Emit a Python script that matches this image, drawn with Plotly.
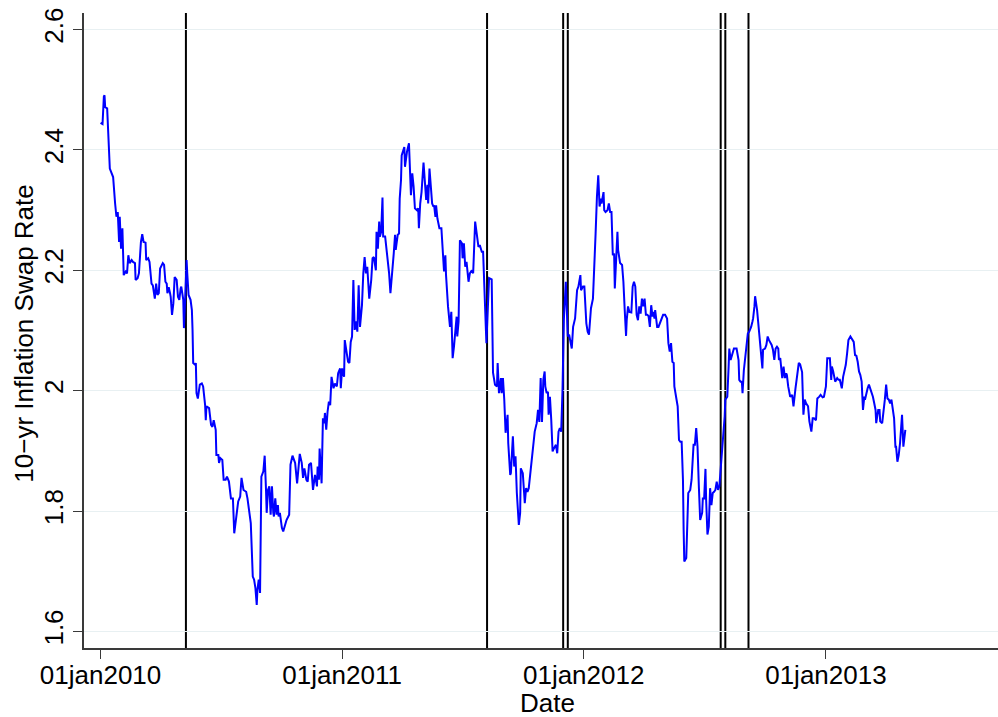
import pandas as pd
import plotly.graph_objects as go

# ---- data (days since 01jan2010, 10-yr inflation swap rate) ----
days = [
    0, 3, 5, 6, 7, 10, 14, 17, 19, 22,
    24, 26, 28, 29, 31, 33, 34, 35, 38, 40,
    42, 44, 47, 49, 52, 53, 56, 58, 61, 63,
    65, 68, 69, 72, 74, 77, 79, 82, 84, 86,
    88, 90, 94, 96, 98, 100, 101, 103, 105, 106,
    108, 110, 112, 115, 117, 119, 121, 122, 125, 126,
    128, 130, 131, 133, 136, 138, 139, 140, 143, 144,
    145, 147, 150, 153, 155, 158, 159, 160, 164, 167,
    169, 171, 174, 175, 178, 179, 181, 184, 186, 189,
    191, 194, 197, 200, 202, 206, 208, 211, 213, 216,
    220, 222, 225, 227, 230, 232, 234, 236, 237, 239,
    241, 242, 243, 246, 248, 250, 251, 253, 255, 257,
    259, 261, 262, 264, 266, 268, 269, 271, 274, 276,
    279, 281, 285, 287, 290, 292, 294, 297, 299, 301,
    304, 306, 308, 311, 313, 315, 318, 321, 324, 327,
    328, 330, 331, 334, 336, 338, 339, 341, 343, 345,
    347, 349, 352, 354, 357, 359, 362, 363, 365, 368,
    369, 372, 374, 376, 378, 380, 382, 384, 386, 388,
    390, 392, 395, 397, 399, 401, 403, 406, 409, 411,
    413, 416, 417, 419, 421, 422, 424, 426, 427, 430,
    433, 436, 438, 441, 443, 445, 446, 449, 451, 452,
    454, 455, 457, 459, 460, 463, 466, 468, 469, 471,
    473, 475, 478, 480, 481, 483, 485, 488, 490, 492,
    494, 495, 497, 499, 501, 503, 504, 506, 507, 509,
    512, 515, 518, 519, 521, 522, 525, 527, 528, 530,
    532, 534, 536, 538, 539, 541, 543, 546, 547, 549,
    551, 553, 556, 558, 561, 563, 566, 568, 571, 573,
    576, 578, 581, 583, 587, 591, 593, 596, 599, 600,
    602, 605, 606, 608, 610, 612, 615, 616, 619, 620,
    623, 625, 627, 629, 632, 634, 635, 638, 640, 641,
    643, 645, 647, 649, 652, 654, 656, 659, 661, 663,
    665, 667, 669, 671, 672, 674, 676, 677, 679, 681,
    683, 685, 688, 690, 692, 694, 696, 698, 700, 703,
    704, 706, 708, 710, 712, 714, 717, 720, 722, 725,
    726, 729, 731, 734, 736, 738, 741, 744, 746, 748,
    750, 752, 754, 756, 757, 760, 761, 763, 766, 768,
    770, 772, 774, 776, 777, 779, 781, 782, 785, 788,
    790, 792, 794, 795, 797, 799, 802, 804, 806, 808,
    810, 812, 814, 816, 818, 820, 822, 824, 826, 828,
    830, 832, 834, 835, 837, 838, 841, 843, 845, 848,
    850, 853, 856, 858, 860, 862, 864, 866, 867, 870,
    872, 874, 876, 878, 880, 881, 882, 885, 886, 888,
    891, 893, 896, 898, 900, 902, 904, 906, 909, 910,
    912, 914, 915, 917, 919, 921, 923, 925, 927, 929,
    931, 933, 935, 937, 939, 941, 943, 944, 947, 949,
    950, 952, 954, 957, 961, 964, 965, 967, 969, 970,
    972, 974, 977, 978, 980, 983, 985, 986, 988, 989,
    992, 994, 996, 998, 1000, 1001, 1004, 1006, 1008, 1010,
    1012, 1014, 1016, 1018, 1020, 1022, 1024, 1025, 1027, 1028,
    1030, 1032, 1034, 1036, 1037, 1039, 1041, 1042, 1045, 1047,
    1050, 1052, 1055, 1057, 1060, 1062, 1064, 1066, 1069, 1071,
    1074, 1076, 1078, 1081, 1083, 1086, 1088, 1091, 1093, 1096,
    1098, 1100, 1102, 1104, 1105, 1107, 1110, 1113, 1115, 1117,
    1120, 1122, 1124, 1126, 1128, 1130, 1133, 1135, 1138, 1140,
    1142, 1144, 1146, 1148, 1150, 1152, 1154, 1155, 1157, 1159,
    1161, 1163, 1166, 1167, 1169, 1171, 1172, 1175, 1177, 1178,
    1181, 1183, 1185, 1187, 1189, 1191, 1193, 1195, 1197, 1199,
    1201, 1202, 1204, 1206, 1208, 1210, 1211, 1213, 1215, 1216,
]

swap_rate = [
    2.445, 2.443, 2.489, 2.491, 2.471, 2.469, 2.369, 2.361, 2.355, 2.311,
    2.289, 2.297, 2.247, 2.289, 2.236, 2.270, 2.239, 2.192, 2.198, 2.195,
    2.225, 2.212, 2.217, 2.214, 2.212, 2.184, 2.187, 2.195, 2.247, 2.260,
    2.247, 2.246, 2.217, 2.220, 2.214, 2.178, 2.175, 2.153, 2.178, 2.159,
    2.162, 2.203, 2.212, 2.209, 2.181, 2.178, 2.162, 2.172, 2.162, 2.156,
    2.126, 2.145, 2.189, 2.184, 2.156, 2.151, 2.170, 2.173, 2.151, 2.104,
    2.156, 2.217, 2.195, 2.159, 2.151, 2.134, 2.101, 2.046, 2.043, 2.046,
    1.996, 1.987, 2.010, 2.012, 2.007, 1.976, 1.951, 1.974, 1.971, 1.943,
    1.940, 1.951, 1.935, 1.893, 1.893, 1.880, 1.888, 1.885, 1.852, 1.852,
    1.857, 1.849, 1.821, 1.821, 1.763, 1.802, 1.816, 1.824, 1.855, 1.835,
    1.832, 1.821, 1.797, 1.780, 1.691, 1.686, 1.672, 1.644, 1.669, 1.686,
    1.664, 1.730, 1.857, 1.866, 1.892, 1.835, 1.797, 1.835, 1.841, 1.794,
    1.841, 1.797, 1.791, 1.821, 1.794, 1.810, 1.791, 1.797, 1.772, 1.766,
    1.777, 1.785, 1.794, 1.877, 1.892, 1.885, 1.880, 1.846, 1.880, 1.895,
    1.880, 1.855, 1.871, 1.852, 1.849, 1.877, 1.880, 1.835, 1.860, 1.841,
    1.874, 1.852, 1.904, 1.846, 1.954, 1.946, 1.963, 1.935, 1.965, 1.982,
    1.976, 2.023, 2.004, 2.012, 2.007, 2.029, 2.037, 2.004, 2.037, 2.023,
    2.084, 2.057, 2.048, 2.046, 2.081, 2.090, 2.184, 2.101, 2.115, 2.098,
    2.175, 2.106, 2.142, 2.195, 2.222, 2.195, 2.206, 2.153, 2.184, 2.220,
    2.222, 2.200, 2.264, 2.236, 2.281, 2.256, 2.264, 2.321, 2.256, 2.256,
    2.228, 2.195, 2.162, 2.195, 2.228, 2.259, 2.234, 2.259, 2.261, 2.319,
    2.350, 2.391, 2.400, 2.405, 2.372, 2.397, 2.411, 2.364, 2.325, 2.361,
    2.339, 2.303, 2.300, 2.303, 2.270, 2.311, 2.330, 2.379, 2.353, 2.317,
    2.342, 2.311, 2.369, 2.339, 2.311, 2.306, 2.308, 2.289, 2.308, 2.286,
    2.270, 2.270, 2.225, 2.198, 2.225, 2.192, 2.140, 2.112, 2.106, 2.131,
    2.054, 2.073, 2.095, 2.123, 2.090, 2.115, 2.250, 2.245, 2.220, 2.245,
    2.206, 2.214, 2.181, 2.195, 2.200, 2.195, 2.281, 2.261, 2.239, 2.242,
    2.231, 2.231, 2.151, 2.079, 2.187, 2.185, 2.030, 2.010, 2.007, 2.046,
    1.996, 2.021, 1.996, 2.021, 1.985, 1.930, 1.960, 1.913, 1.860, 1.863,
    1.924, 1.874, 1.891, 1.830, 1.777, 1.797, 1.871, 1.863, 1.830, 1.813,
    1.838, 1.832, 1.838, 1.860, 1.896, 1.921, 1.932, 1.946, 1.968, 1.948,
    2.021, 1.948, 2.018, 2.032, 2.007, 1.996, 1.998, 1.960, 1.990, 1.951,
    1.899, 1.904, 1.910, 1.896, 1.932, 1.938, 1.932, 2.001, 2.117, 2.181,
    2.140, 2.090, 2.093, 2.079, 2.070, 2.106, 2.120, 2.167, 2.173, 2.192,
    2.167, 2.173, 2.173, 2.112, 2.098, 2.093, 2.137, 2.153, 2.200, 2.261,
    2.322, 2.358, 2.306, 2.319, 2.311, 2.330, 2.300, 2.297, 2.300, 2.311,
    2.297, 2.297, 2.225, 2.228, 2.170, 2.234, 2.264, 2.234, 2.212, 2.209,
    2.181, 2.134, 2.091, 2.117, 2.140, 2.131, 2.130, 2.173, 2.181, 2.173,
    2.126, 2.117, 2.140, 2.128, 2.153, 2.140, 2.153, 2.126, 2.126, 2.124,
    2.106, 2.142, 2.123, 2.131, 2.120, 2.134, 2.106, 2.106, 2.112, 2.123,
    2.126, 2.126, 2.120, 2.079, 2.065, 2.079, 2.048, 2.046, 2.007, 1.987,
    1.974, 1.918, 1.915, 1.915, 1.852, 1.769, 1.716, 1.722, 1.763, 1.830,
    1.835, 1.852, 1.910, 1.910, 1.938, 1.907, 1.841, 1.785, 1.797, 1.821,
    1.821, 1.870, 1.819, 1.761, 1.774, 1.838, 1.810, 1.830, 1.832, 1.835,
    1.849, 1.835, 1.841, 1.868, 1.907, 1.929, 1.957, 1.985, 1.990, 2.040,
    2.070, 2.051, 2.059, 2.070, 2.070, 2.051, 2.018, 2.015, 2.015, 1.996,
    2.034, 2.057, 2.093, 2.095, 2.098, 2.106, 2.115, 2.120, 2.140, 2.157,
    2.134, 2.109, 2.090, 2.070, 2.037, 2.068, 2.070, 2.076, 2.090, 2.084,
    2.081, 2.076, 2.068, 2.051, 2.070, 2.073, 2.070, 2.051, 2.054, 2.041,
    2.021, 2.040, 2.021, 2.029, 2.026, 2.007, 1.993, 1.990, 1.993, 1.974,
    2.004, 2.018, 2.046, 2.044, 2.031, 1.960, 1.985, 1.979, 1.974, 1.949,
    1.932, 1.954, 1.954, 1.951, 1.987, 1.990, 1.993, 1.989, 1.990, 2.007,
    2.054, 2.054, 2.054, 2.018, 2.040, 2.032, 2.015, 2.021, 2.018, 2.018,
    2.004, 2.023, 2.034, 2.043, 2.062, 2.084, 2.090, 2.087, 2.081, 2.059,
    2.058, 2.048, 2.032, 2.026, 2.015, 1.968, 1.990, 1.985, 1.996, 2.004,
    2.010, 2.004, 1.996, 1.990, 1.979, 1.968, 1.946, 1.968, 1.968, 1.949,
    1.946, 1.963, 1.985, 2.010, 1.987, 1.985, 1.979, 1.985, 1.968, 1.954,
    1.907, 1.907, 1.882, 1.893, 1.913, 1.943, 1.960, 1.907, 1.935, 1.935,
]

event_dates = ["2010-05-10", "2011-08-08", "2011-12-01", "2011-12-08",
               "2012-07-26", "2012-08-02", "2012-09-06"]

x_tick_dates = ["2010-01-01", "2011-01-01", "2012-01-01", "2013-01-01"]
x_tick_labels = ["01jan2010", "01jan2011", "01jan2012", "01jan2013"]
y_tick_values = [1.6, 1.8, 2.0, 2.2, 2.4, 2.6]
y_tick_labels = ["1.6", "1.8", "2", "2.2", "2.4", "2.6"]

assert len(days) == len(swap_rate)

dates = pd.Timestamp("2010-01-01") + pd.to_timedelta(days, unit="D")

FONT = "Liberation Sans, Arial, Helvetica, sans-serif"
AXIS_COLOR = "#3a3a3a"

fig = go.Figure()
fig.add_trace(go.Scatter(
    x=dates, y=swap_rate, mode="lines",
    line=dict(color="#0000ff", width=2),
    showlegend=False, hoverinfo="x+y",
))

for d in event_dates:
    fig.add_shape(type="line", xref="x", yref="paper", x0=d, x1=d, y0=0, y1=1,
                  line=dict(color="black", width=2), layer="between")

fig.update_layout(
    width=998, height=717,
    margin=dict(l=84, r=0, t=13, b=69, pad=0),
    paper_bgcolor="white", plot_bgcolor="white",
    font=dict(family=FONT, size=26, color="black"),
    xaxis=dict(
        type="date",
        range=["2009-12-07", "2013-09-18"],
        tickmode="array", tickvals=x_tick_dates, ticktext=x_tick_labels,
        ticks="outside", ticklen=9, tickwidth=1.3, tickcolor=AXIS_COLOR,
        showline=True, linecolor=AXIS_COLOR, linewidth=1.5,
        showgrid=False, zeroline=False,
        ticklabelstandoff=-6,
        tickfont=dict(family=FONT, size=26, color="black"),
    ),
    yaxis=dict(
        range=[1.5724, 2.6276],
        tickmode="array", tickvals=y_tick_values, ticktext=y_tick_labels,
        tickangle=-90,
        ticks="outside", ticklen=9, tickwidth=1.3, tickcolor=AXIS_COLOR,
        showline=True, linecolor=AXIS_COLOR, linewidth=1.5,
        showgrid=True, gridcolor="#e8f0f2", gridwidth=1.3,
        zeroline=False,
        tickfont=dict(family=FONT, size=26, color="black"),
    ),
    annotations=[
        dict(text="10\u2212yr Inflation Swap Rate", xref="paper", yref="paper",
             x=-0.0656, y=0.495, xanchor="center", yanchor="middle",
             textangle=-90, showarrow=False,
             font=dict(family=FONT, size=26, color="black")),
        dict(text="Date", xref="paper", yref="paper",
             x=0.5066, y=-0.0861, xanchor="center", yanchor="middle",
             showarrow=False,
             font=dict(family=FONT, size=26, color="black")),
    ],
)

fig.write_html("out.html", post_script="document.body.style.margin='0';",
               config={"displayModeBar": False})
